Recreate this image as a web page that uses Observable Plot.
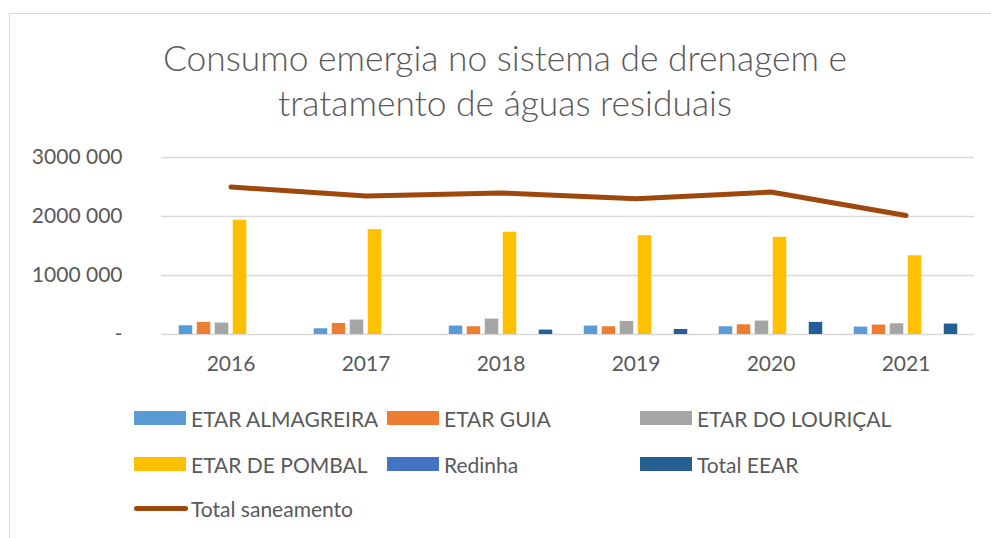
<!DOCTYPE html>
<html>
<head>
<meta charset="utf-8">
<script src="https://cdn.jsdelivr.net/npm/d3@7"></script>
<script src="https://cdn.jsdelivr.net/npm/@observablehq/plot@0.6"></script>
<style>
  html, body { margin: 0; padding: 0; background: #fff; }
  #page { position: relative; width: 991px; height: 538px; overflow: hidden; font-family: Lato, "Open Sans", sans-serif; color: #595959; }
  #frame { position: absolute; left: 9px; top: 13px; width: 1000px; height: 600px; border-left: 1.5px solid #d9d9d9; border-top: 1.5px solid #d9d9d9; }
  #title { position: absolute; left: 0; width: 1010px; top: 35px; text-align: center; font-size: 35.4px; font-weight: 300; line-height: 45px; color: #595959; }
  #chart { position: absolute; left: 0; top: 130px; }
  #legend { position: absolute; left: 0; top: 0; width: 991px; height: 538px; }
  .item { position: absolute; display: flex; align-items: center; font-size: 21px; color: #595959; white-space: nowrap; }
  .sw { width: 52px; height: 14px; margin-right: 5px; }
  .ln { width: 54px; height: 5px; border-radius: 3px; margin-right: 3px; }
</style>
</head>
<body>
<div id="page">
  <div id="frame"></div>
  <div id="title">Consumo emergia no sistema de drenagem e<br>tratamento de águas residuais</div>
  <div id="chart"></div>
  <div id="legend"></div>
</div>
<script>
const years = ["2016", "2017", "2018", "2019", "2020", "2021"];
const seriesNames = ["ETAR ALMAGREIRA", "ETAR GUIA", "ETAR DO LOURIÇAL", "ETAR DE POMBAL", "Redinha", "Total EEAR"];
const etarAlmagreira = [148000, 97000, 143000, 143000, 131000, 126000];
const etarGuia = [205000, 187000, 131000, 131000, 165000, 160000];
const etarLourical = [194000, 245000, 262000, 222000, 228000, 182000];
const etarPombal = [1937000, 1778000, 1733000, 1676000, 1647000, 1335000];
const redinha = [0, 0, 0, 0, 0, 0];
const totalEEAR = [0, 0, 75000, 85000, 205000, 177000];
const totalSaneamento = [2500000, 2346000, 2400000, 2300000, 2414000, 2017000];
const colors = ["#5B9BD5", "#ED7D31", "#A5A5A5", "#FFC000", "#4472C4", "#255E91"];
const lineColor = "#9E480E";
const yTicks = [0, 1000000, 2000000, 3000000];
const yTickLabels = ["-", "1000 000", "2000 000", "3000 000"];

const seriesValues = [etarAlmagreira, etarGuia, etarLourical, etarPombal, redinha, totalEEAR];

const W = 991, H = 260, mL = 161, mR = 17, mT = 27, mB = 56;
const bw = (W - mL - mR) / years.length;
const barW = 14, gap = 4;
const groupW = seriesValues.length * barW + (seriesValues.length - 1) * gap;
const start = (bw - groupW) / 2;

const barMarks = seriesValues.map((vals, i) => {
  const insetLeft = start + i * (barW + gap);
  const insetRight = bw - insetLeft - barW;
  return Plot.barY(years.map((y, j) => ({year: y, value: vals[j]})).filter(d => d.value > 0), {
    x: "year", y: "value", fill: colors[i], insetLeft, insetRight
  });
});

const lineData = years.map((y, j) => ({year: y, value: totalSaneamento[j]}));

const chart = Plot.plot({
  width: W, height: H,
  marginLeft: mL, marginRight: mR, marginTop: mT, marginBottom: mB,
  style: {fontFamily: "Lato, 'Open Sans', sans-serif", fontSize: "21px", color: "#595959", background: "transparent"},
  x: {domain: years, padding: 0, label: null, tickSize: 0, tickPadding: 22},
  y: {domain: [0, 3000000], label: null, ticks: yTicks, tickSize: 0, tickPadding: 39,
      tickFormat: d => yTickLabels[yTicks.indexOf(d)]},
  marks: [
    Plot.ruleY(yTicks, {stroke: "#d9d9d9", strokeWidth: 1.6}),
    ...barMarks,
    Plot.lineY(lineData, {x: "year", y: "value", stroke: lineColor, strokeWidth: 5, strokeLinecap: "round", strokeLinejoin: "round"})
  ]
});
document.getElementById("chart").appendChild(chart);

// Legend
const legend = document.getElementById("legend");
const colX = [134, 387, 640];
const rowY = [418, 464, 508];
seriesNames.forEach((name, i) => {
  const el = document.createElement("div");
  el.className = "item";
  el.style.left = colX[i % 3] + "px";
  el.style.top = (rowY[Math.floor(i / 3)] - 13) + "px";
  el.style.height = "26px";
  el.innerHTML = `<div class="sw" style="background:${colors[i]}"></div><span>${name}</span>`;
  legend.appendChild(el);
});
const li = document.createElement("div");
li.className = "item";
li.style.left = colX[0] + "px";
li.style.top = (rowY[2] - 13) + "px";
li.style.height = "26px";
li.innerHTML = `<div class="ln" style="background:${lineColor}"></div><span>Total saneamento</span>`;
legend.appendChild(li);
</script>
</body>
</html>
